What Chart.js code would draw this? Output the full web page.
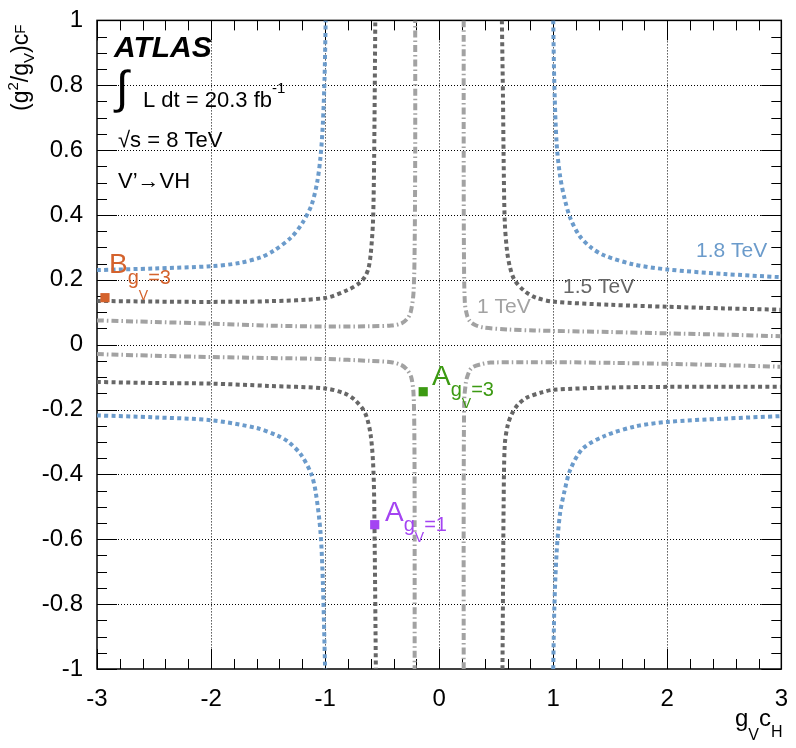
<!DOCTYPE html>
<html>
<head>
<meta charset="utf-8">
<script src="https://cdn.jsdelivr.net/npm/chart.js@4.4.0/dist/chart.umd.min.js"></script>
<style>
body{margin:0;background:#fff;}
canvas{display:block;}
</style>
</head>
<body>
<canvas id="c" width="796" height="748" style="width:796px;height:748px"></canvas>
<script>
// contour curves: [gV*cH, (g^2/gV)*cF]
const m18_upLeft  = [[-3,0.230],[-2.5,0.235],[-2,0.242],[-1.75,0.252],[-1.56,0.270],[-1.45,0.29],[-1.3,0.33],[-1.2,0.375],[-1.12,0.43],[-1.07,0.50],[-1.04,0.58],[-1.02,0.68],[-1.005,0.82],[-0.995,1.0]];
const m18_upRight = [[1.0,1.0],[1.01,0.80],[1.03,0.62],[1.06,0.52],[1.1,0.45],[1.15,0.39],[1.23,0.336],[1.33,0.30],[1.45,0.275],[1.7,0.248],[2.0,0.232],[2.5,0.218],[3.0,0.208]];
const m18_loRight = [[1.0,-1.0],[1.01,-0.81],[1.03,-0.64],[1.06,-0.52],[1.1,-0.45],[1.15,-0.385],[1.26,-0.32],[1.46,-0.28],[1.72,-0.252],[2.0,-0.238],[2.5,-0.228],[3.0,-0.22]];
const m18_loLeft  = [[-3,-0.218],[-2.5,-0.224],[-2,-0.233],[-1.6,-0.257],[-1.42,-0.28],[-1.32,-0.30],[-1.21,-0.34],[-1.12,-0.40],[-1.08,-0.46],[-1.04,-0.58],[-1.02,-0.73],[-1.0,-1.0]];

const m15_upLeft  = [[-3,0.135],[-2.5,0.133],[-2,0.132],[-1.5,0.134],[-1.0,0.144],[-0.8,0.169],[-0.7,0.19],[-0.65,0.21],[-0.62,0.235],[-0.6,0.28],[-0.58,0.38],[-0.57,0.58],[-0.56,1.0]];
const m15_upRight = [[0.55,1.0],[0.56,0.75],[0.565,0.58],[0.575,0.38],[0.595,0.29],[0.62,0.24],[0.66,0.2],[0.75,0.165],[0.85,0.145],[1.0,0.133],[1.5,0.123],[2.0,0.117],[2.5,0.112],[3.0,0.108]];
const m15_loRight = [[0.555,-1.0],[0.56,-0.75],[0.565,-0.5],[0.575,-0.31],[0.6,-0.25],[0.635,-0.215],[0.69,-0.185],[0.77,-0.163],[0.9,-0.147],[1.0,-0.139],[1.5,-0.132],[2.0,-0.13],[3.0,-0.13]];
const m15_loLeft  = [[-3,-0.115],[-2.5,-0.118],[-2,-0.12],[-1.5,-0.127],[-1.0,-0.135],[-0.83,-0.15],[-0.74,-0.17],[-0.65,-0.21],[-0.6,-0.28],[-0.575,-0.4],[-0.565,-0.63],[-0.555,-1.0]];

const m10_upLeft  = [[-3,0.075],[-2.5,0.07],[-2,0.065],[-1.5,0.059],[-1.0,0.056],[-0.6,0.057],[-0.42,0.059],[-0.33,0.066],[-0.28,0.08],[-0.25,0.10],[-0.225,0.16],[-0.215,0.3],[-0.21,0.6],[-0.21,1.0]];
const m10_upRight = [[0.215,1.0],[0.215,0.6],[0.217,0.3],[0.225,0.13],[0.245,0.09],[0.27,0.072],[0.32,0.06],[0.39,0.053],[0.6,0.047],[0.83,0.044],[1.5,0.039],[2.0,0.035],[2.5,0.031],[3.0,0.026]];
const m10_loRight = [[0.215,-1.0],[0.215,-0.5],[0.22,-0.17],[0.233,-0.12],[0.245,-0.10],[0.27,-0.078],[0.3,-0.068],[0.37,-0.06],[0.45,-0.055],[1.0,-0.054],[1.5,-0.056],[2.0,-0.059],[2.5,-0.063],[3.0,-0.068]];
const m10_loLeft  = [[-3,-0.029],[-2.5,-0.034],[-2,-0.038],[-1.5,-0.041],[-1.0,-0.044],[-0.6,-0.05],[-0.42,-0.054],[-0.33,-0.063],[-0.28,-0.078],[-0.245,-0.10],[-0.225,-0.15],[-0.217,-0.3],[-0.215,-0.6],[-0.215,-1.0]];

// benchmark points
const ptB3 = [-2.93, 0.145];
const ptA3 = [-0.14, -0.145];
const ptA1 = [-0.565, -0.555];

const xRange = [-3, 3];
const yRange = [-1, 1];

const FONT = '"Liberation Sans", Arial, Helvetica, sans-serif';
const BLUE = '#6b9bcb', DGRAY = '#676767', LGRAY = '#a2a2a2';
const ORANGE = '#d4622c', GREEN = '#3c9a12', PURPLE = '#a444f2';

function curve(pts, color, dash){
  return {data: pts.map(p=>({x:p[0], y:p[1]})), showLine:true, borderColor:color, borderWidth:4,
    borderDash:dash, borderCapStyle:'butt', pointRadius:0, pointHoverRadius:0, tension:0.3, fill:false, clip:0};
}
function marker(p, color){
  return {data:[{x:p[0], y:p[1]}], showLine:false, pointStyle:'rect', pointRadius:6.5,
    backgroundColor:color, borderColor:color, borderWidth:0, clip:false};
}
const dotted = [4,3.3];
const dashdot = [7,3,1.5,3];

// draw text pieces one after the other: [text, size, dy, extra]
function rich(ctx, x, y, pieces, color){
  ctx.fillStyle = color;
  ctx.textBaseline = 'alphabetic';
  ctx.textAlign = 'left';
  for(const p of pieces){
    ctx.font = (p[3]||'') + ' ' + p[1] + 'px ' + FONT;
    ctx.fillText(p[0], x, y + p[2]);
    x += ctx.measureText(p[0]).width;
  }
}

const rootFrame = {
  id:'rootFrame',
  beforeDatasetsDraw(chart){
    const ctx = chart.ctx, a = chart.chartArea;
    const xs = chart.scales.x, ys = chart.scales.y;
    ctx.save();
    // dotted grid at the major ticks
    ctx.strokeStyle = '#000';
    ctx.lineWidth = 1;
    ctx.setLineDash([1,2]);
    ctx.beginPath();
    for(let v=xRange[0]+1; v<xRange[1]; v++){
      const px = Math.round(xs.getPixelForValue(v)) + 0.5;
      ctx.moveTo(px, a.top); ctx.lineTo(px, a.bottom);
    }
    for(let i=1;i<10;i++){
      const py = Math.round(ys.getPixelForValue(yRange[0] + i*0.2)) + 0.5;
      ctx.moveTo(a.left, py); ctx.lineTo(a.right, py);
    }
    ctx.stroke();
    ctx.setLineDash([]);
    ctx.beginPath();
    // x ticks (major every 1, minor every 0.2)
    for(let i=0;i<=30;i++){
      const v = xRange[0] + i*0.2;
      const px = Math.round(xs.getPixelForValue(v)) + 0.5;
      const len = (i%5===0) ? 20 : 10;
      ctx.moveTo(px, a.bottom); ctx.lineTo(px, a.bottom - len);
      ctx.moveTo(px, a.top); ctx.lineTo(px, a.top + len);
    }
    // y ticks (major every 0.2, minor every 0.05)
    for(let i=0;i<=40;i++){
      const v = yRange[0] + i*0.05;
      const py = Math.round(ys.getPixelForValue(v)) + 0.5;
      const len = (i%4===0) ? 20 : 10;
      ctx.moveTo(a.left, py); ctx.lineTo(a.left + len, py);
      ctx.moveTo(a.right, py); ctx.lineTo(a.right - len, py);
    }
    ctx.stroke();
    ctx.lineWidth = 1.5;
    ctx.strokeRect(a.left, a.top, a.right - a.left, a.bottom - a.top);
    ctx.restore();
  },
  afterDraw(chart){
    const ctx = chart.ctx;
    ctx.save();
    // ATLAS label block
    rich(ctx, 114, 57, [['ATLAS', 30, 0, 'italic bold']], '#000');
    rich(ctx, 116, 103, [['\u222B', 46, 0]], '#000');
    rich(ctx, 143, 107, [['L dt = 20.3 fb', 22, 0], ['-1', 15, -14]], '#000');
    rich(ctx, 118, 147, [['\u221As = 8 TeV', 22, 0]], '#000');
    rich(ctx, 118, 188, [['V\u2019\u2192VH', 22, 0]], '#000');
    // curve labels
    rich(ctx, 696, 257, [['1.8 TeV', 21, 0]], BLUE);
    rich(ctx, 563, 293, [['1.5 TeV', 21, 0]], DGRAY);
    rich(ctx, 477, 313, [['1 TeV', 21, 0]], LGRAY);
    // benchmark labels
    rich(ctx, 109, 273, [['B', 28, 0], ['g', 20, 11], ['V', 14, 27], ['=3', 20, 11]], ORANGE);
    rich(ctx, 432, 385, [['A', 28, 0], ['g', 20, 11], ['V', 14, 23], ['=3', 20, 11]], GREEN);
    rich(ctx, 385, 521, [['A', 28, 0], ['g', 20, 10], ['V', 14, 21], ['=1', 20, 10]], PURPLE);
    // axis titles
    rich(ctx, 735, 726, [['g', 24, 0], ['V', 16, 14], ['c', 24, 0], ['H', 16, 11]], '#000');
    ctx.translate(28, 111);
    ctx.rotate(-Math.PI/2);
    rich(ctx, 0, 0, [['(g', 23, 0], ['2', 15, -10], ['/g', 23, 0], ['V', 15, 6], [')c', 23, 0], ['F', 15, -3]], '#000');
    ctx.restore();
  }
};

new Chart(document.getElementById('c').getContext('2d'), {
  type:'scatter',
  data:{datasets:[
    marker(ptB3, ORANGE), marker(ptA3, GREEN), marker(ptA1, PURPLE),
    curve(m10_upLeft, LGRAY, dashdot), curve(m10_upRight, LGRAY, dashdot),
    curve(m10_loRight, LGRAY, dashdot), curve(m10_loLeft, LGRAY, dashdot),
    curve(m15_upLeft, DGRAY, dotted), curve(m15_upRight, DGRAY, dotted),
    curve(m15_loRight, DGRAY, dotted), curve(m15_loLeft, DGRAY, dotted),
    curve(m18_upLeft, BLUE, dotted), curve(m18_upRight, BLUE, dotted),
    curve(m18_loRight, BLUE, dotted), curve(m18_loLeft, BLUE, dotted)
  ]},
  options:{
    responsive:false,
    animation:false,
    layout:{padding:{top:12, right:9, left:0, bottom:0}},
    plugins:{legend:{display:false}, tooltip:{enabled:false}},
    scales:{
      x:{type:'linear', min:xRange[0], max:xRange[1],
        afterFit(s){ s.height = 79; },
        grid:{display:false},
        border:{display:false},
        ticks:{stepSize:1, padding:8, color:'#000', font:{family:FONT, size:24}}},
      y:{type:'linear', min:yRange[0], max:yRange[1],
        afterFit(s){ s.width = 97; },
        grid:{display:false},
        border:{display:false},
        ticks:{stepSize:0.2, padding:6, color:'#000', font:{family:FONT, size:24},
          callback:v => String(Number(v.toFixed(2)))}}
    }
  },
  plugins:[rootFrame]
});
</script>
</body>
</html>
